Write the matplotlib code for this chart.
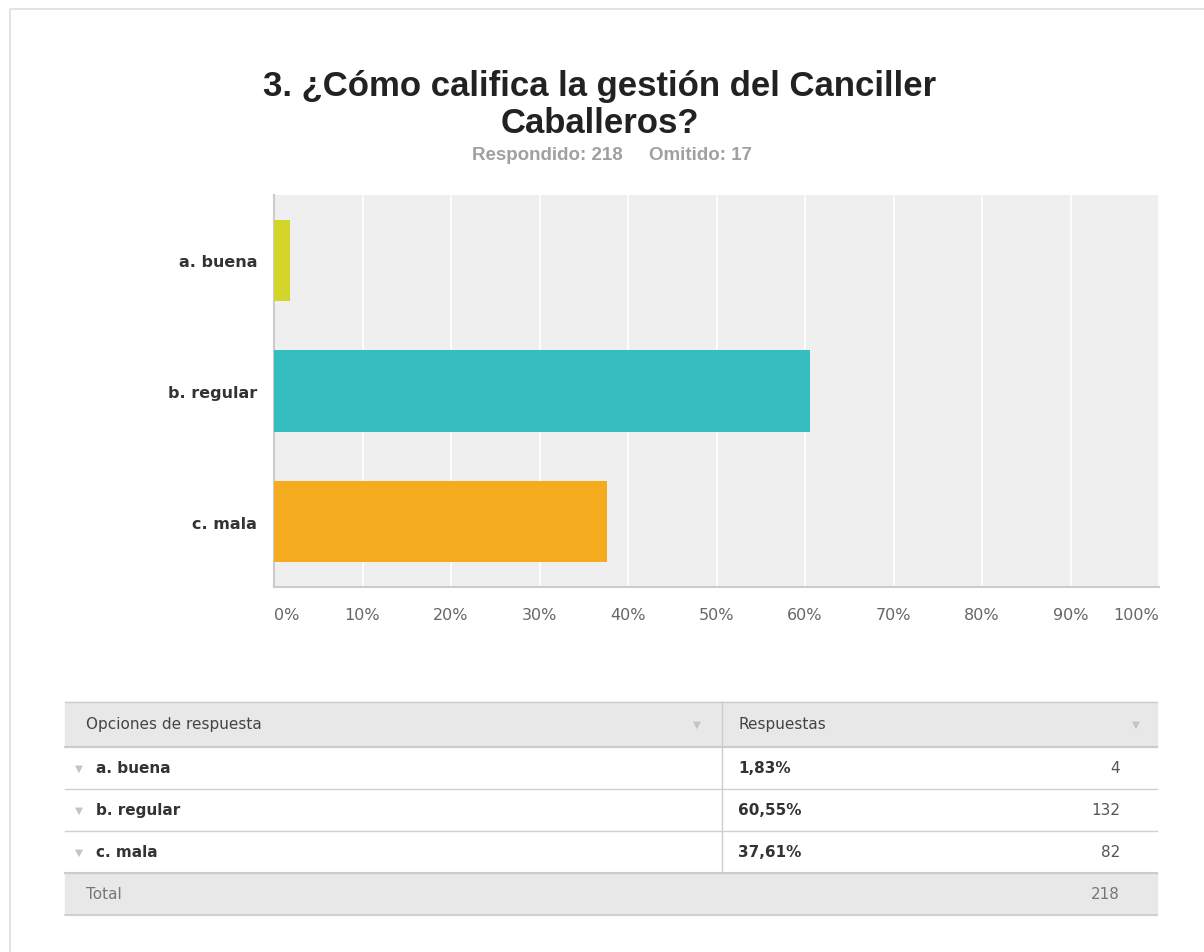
import matplotlib
matplotlib.use("Agg")
import matplotlib.pyplot as plt
from matplotlib.patches import Rectangle

plt.rcParams["font.family"] = ["Liberation Sans", "DejaVu Sans"]
WIDE = ["DejaVu Sans"]

# ---------- data ----------
options = ["a. buena", "b. regular", "c. mala"]
percent = [1.83, 60.55, 37.61]
counts = [4, 132, 82]
pct_labels = ["1,83%", "60,55%", "37,61%"]
total = 218
answered, skipped = 218, 17
colors = ["#d3d52b", "#35bcbf", "#f5ab1e"]
ticks = [0, 10, 20, 30, 40, 50, 60, 70, 80, 90, 100]

W, H = 1204, 953
fig = plt.figure(figsize=(W / 100, H / 100), dpi=100)

# overlay in pixel coordinates for the card, titles and table
bg = fig.add_axes([0, 0, 1, 1])
bg.set_xlim(0, W); bg.set_ylim(H, 0); bg.axis("off")
bg.plot([10, 10, W], [H, 10, 10], color="#dedede", lw=1.2)

bg.text(600, 105, "3. ¿Cómo califica la gestión del Canciller\nCaballeros?",
        ha="center", va="center", fontsize=25, fontweight="bold",
        color="#222222", linespacing=1.15)
bg.text(612, 155, f"Respondido: {answered}     Omitido: {skipped}",
        ha="center", va="center", fontsize=13.5, fontweight="bold", color="#a0a0a0")

# ---------- bar chart ----------
x0, x1, y0, y1 = 274, 1159, 196, 588
ax = fig.add_axes([x0 / W, 1 - y1 / H, (x1 - x0) / W, (y1 - y0) / H], zorder=2)
ax.set_facecolor("#efefef")
ypos = list(range(len(options)))
ax.barh(ypos, percent, height=0.62, color=colors, zorder=3)
ax.set_xlim(0, 100)
ax.set_ylim(len(options) - 0.5, -0.5)
ax.set_yticks(ypos)
ax.set_yticklabels(options, fontsize=11.5, fontweight="bold", color="#333333", family=WIDE)
ax.set_xticks(ticks)
ax.set_xticklabels([])
ax.grid(axis="x", color="white", lw=1.2, zorder=1)
ax.tick_params(length=0, pad=12)
for s in ["top", "right"]:
    ax.spines[s].set_visible(False)
for s in ["left", "bottom"]:
    ax.spines[s].set_color("#cccccc")
    ax.spines[s].set_linewidth(1.5)
for t in ticks:
    ha = "left" if t == 0 else ("right" if t == 100 else "center")
    ax.text(t, -0.07, f"{t}%", transform=ax.get_xaxis_transform(),
            ha=ha, va="center", fontsize=11.5, color="#666666", family=WIDE)

# ---------- table ----------
tx0, tx1, tdiv = 65, 1157, 722
row_h = 42
top = 703
fs = 11
bg.add_patch(Rectangle((tx0, top), tx1 - tx0, 45, color="#e8e8e8", zorder=1))
bg.text(86, top + 22, "Opciones de respuesta", fontsize=fs, color="#444444",
        va="center", family=WIDE)
bg.text(738, top + 22, "Respuestas", fontsize=fs, color="#444444", va="center", family=WIDE)
bg.text(697, top + 22, "▼", fontsize=7.5, color="#c4c4c4", va="center", ha="center", family=WIDE)
bg.text(1136, top + 22, "▼", fontsize=7.5, color="#c4c4c4", va="center", ha="center", family=WIDE)
y = top + 45
bg.plot([tx0, tx1], [top, top], color="#cccccc", lw=1)
bg.plot([tx0, tx1], [y, y], color="#cccccc", lw=1.5)
for name, pl, c in zip(options, pct_labels, counts):
    cy = y + row_h / 2
    bg.text(79, cy, "▼", fontsize=7.5, color="#c4c4c4", va="center", ha="center", family=WIDE)
    bg.text(96, cy, name, fontsize=fs, fontweight="bold", color="#333333",
            va="center", family=WIDE)
    bg.text(738, cy, pl, fontsize=fs, fontweight="bold", color="#333333",
            va="center", family=WIDE)
    bg.text(1120, cy, str(c), fontsize=fs, color="#555555", va="center", ha="right",
            family=WIDE)
    y += row_h
    bg.plot([tx0, tx1], [y, y], color="#d0d0d0", lw=1)
bg.plot([tdiv, tdiv], [top, y], color="#cccccc", lw=1)
bg.add_patch(Rectangle((tx0, y), tx1 - tx0, row_h, color="#e8e8e8", zorder=1))
bg.plot([tx0, tx1], [y, y], color="#cccccc", lw=1.5)
bg.plot([tx0, tx1], [y + row_h, y + row_h], color="#cccccc", lw=1.2)
bg.text(86, y + row_h / 2, "Total", fontsize=fs, color="#777777", va="center", family=WIDE)
bg.text(1120, y + row_h / 2, str(total), fontsize=fs, color="#777777", va="center",
        ha="right", family=WIDE)

fig.savefig("out.png", dpi=100, facecolor="white")
